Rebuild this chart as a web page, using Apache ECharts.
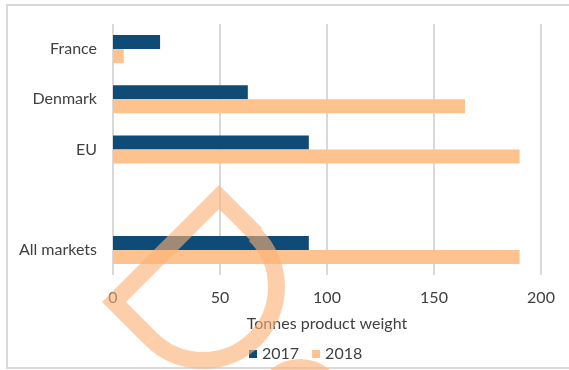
<!DOCTYPE html>
<html>
<head>
<meta charset="utf-8">
<script src="https://cdn.jsdelivr.net/npm/echarts@6/dist/echarts.min.js"></script>
<style>
html,body{margin:0;padding:0;background:#fff;}
#chart{width:569px;height:370px;}
</style>
</head>
<body>
<div id="chart"></div>
<script>
const categories = ['France', 'Denmark', 'EU', '', 'All markets'];
const seriesNames = ['2017', '2018'];
const values2017 = [22, 63, 91.5, null, 91.5];
const values2018 = [5, 164.5, 190, null, 190];
const xTicks = [0, 50, 100, 150, 200];
const xTitle = 'Tonnes product weight';

const FONT = 'Lato';
const WM = 'rgba(250,178,118,0.62)';
const chart = echarts.init(document.getElementById('chart'), null, {renderer: 'canvas'});
chart.setOption({
  animation: false,
  textStyle: {fontFamily: FONT},
  grid: {left: 113, right: 28, top: 24, bottom: 95, containLabel: false},
  legend: {
    data: seriesNames,
    top: 341,
    left: 244,
    itemWidth: 8, itemHeight: 8, itemGap: 13,
    icon: 'rect',
    textStyle: {fontFamily: FONT, fontSize: 16, color: '#404040'}
  },
  xAxis: {
    type: 'value',
    min: xTicks[0], max: xTicks[xTicks.length - 1], interval: 50,
    name: xTitle, nameLocation: 'middle', nameGap: 41,
    nameTextStyle: {fontFamily: FONT, fontSize: 16, color: '#404040'},
    axisLine: {show: false}, axisTick: {show: false},
    axisLabel: {fontFamily: FONT, fontSize: 16, color: '#404040', margin: 15},
    splitLine: {show: true, lineStyle: {color: '#d9d9d9', width: 2}}
  },
  yAxis: {
    type: 'category', data: categories, inverse: true,
    axisLine: {show: false}, axisTick: {show: false},
    axisLabel: {fontFamily: FONT, fontSize: 16, color: '#404040', margin: 16}
  },
  series: [
    {name: seriesNames[0], type: 'bar', data: values2017, barWidth: 14, barGap: '0%',
     itemStyle: {color: '#0e4b77'}},
    {name: seriesNames[1], type: 'bar', data: values2018, barWidth: 14, barGap: '0%',
     itemStyle: {color: '#fec28e'}}
  ],
  graphic: [
    {type: 'rect', shape: {x: 7, y: 5, width: 620, height: 363}, silent: true, z: -10,
     style: {fill: 'none', stroke: '#d9d9d9', lineWidth: 2}},
    {type: 'polyline', silent: true, z: 100,
     shape: {points: [[256, 234], [219, 197], [114, 302], [151, 339]]},
     style: {fill: 'none', stroke: WM, lineWidth: 17, lineJoin: 'miter'}},
    {type: 'arc', silent: true, z: 100,
     shape: {cx: 203, cy: 287, r: 73.5, startAngle: -Math.PI / 4, endAngle: 3 * Math.PI / 4, clockwise: true},
     style: {fill: 'none', stroke: WM, lineWidth: 17}},
    {type: 'circle', silent: true, z: 100,
     shape: {cx: 300, cy: 405, r: 40},
     style: {fill: 'none', stroke: WM, lineWidth: 12}}
  ]
});
</script>
</body>
</html>
